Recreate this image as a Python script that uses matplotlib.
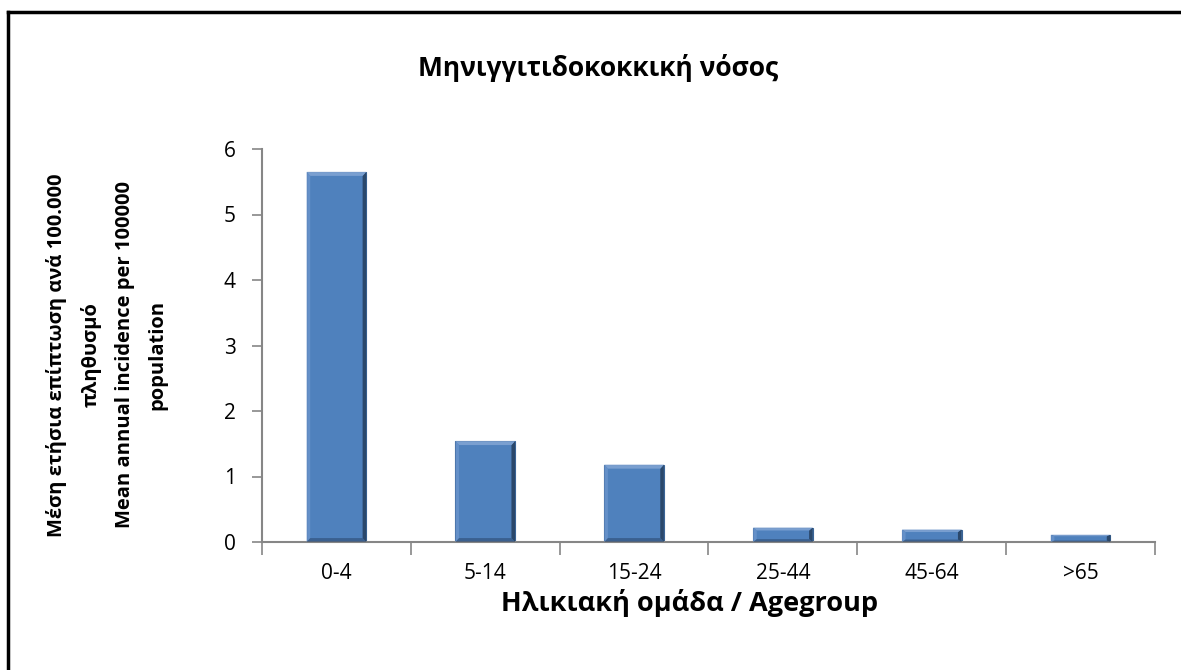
import matplotlib.pyplot as plt
import matplotlib.lines as mlines
import numpy as np

plt.rcParams['font.family'] = ['Open Sans', 'DejaVu Sans']

age_groups = ['0-4', '5-14', '15-24', '25-44', '45-64', '>65']
incidence = [5.65, 1.54, 1.18, 0.22, 0.19, 0.11]
y_ticks = [0, 1, 2, 3, 4, 5, 6]

bar_color = '#4F81BD'
axis_color = '#868686'

fig = plt.figure(figsize=(11.81, 6.70), dpi=100)
ax = fig.add_axes([262 / 1181, 1 - 542 / 670, (1155 - 262) / 1181, (542 - 149) / 670])

x = np.arange(len(age_groups))
width = 0.4
ax.bar(x, incidence, width=width, color=bar_color, edgecolor='#3A6496',
       linewidth=0.8, zorder=2)

# bevel shading: darker right edge and lighter top edge on each bar
for xi, v in zip(x, incidence):
    dx = width * 0.06
    dy = min(0.06, v * 0.2)
    left, right = xi - width / 2, xi + width / 2
    ax.fill([right - dx, right, right, right - dx],
            [dy, 0, v, v - dy], color='#1F3550', alpha=0.75, lw=0, zorder=3)
    ax.fill([left, left + dx, right - dx, right],
            [v, v - dy, v - dy, v], color='#7FA3D3', alpha=0.9, lw=0, zorder=3)
    ax.fill([left, left + dx, left + dx, left],
            [0, dy, v - dy, v], color='#6A94CC', alpha=0.8, lw=0, zorder=3)
    ax.fill([left, right, right - dx, left + dx],
            [0, 0, dy, dy], color='#2D4B73', alpha=0.6, lw=0, zorder=3)

ax.set_xlim(-0.5, len(age_groups) - 0.5)
ax.set_ylim(0, 6)
ax.set_yticks(y_ticks)
ax.set_yticklabels([str(t) for t in y_ticks], fontsize=15)

# category boundaries get tick marks, labels sit at the centres
ax.set_xticks(np.arange(-0.5, len(age_groups), 1.0))
ax.set_xticklabels([])
ax.set_xticks(x, minor=True)
ax.set_xticklabels(age_groups, minor=True, fontsize=15)
ax.tick_params(axis='x', which='major', length=9, color=axis_color, width=1.2)
ax.tick_params(axis='x', which='minor', length=0, pad=15)
ax.tick_params(axis='y', length=7, color=axis_color, width=1.2, pad=12)

for side in ['top', 'right']:
    ax.spines[side].set_visible(False)
for side in ['left', 'bottom']:
    ax.spines[side].set_color(axis_color)
    ax.spines[side].set_linewidth(1.5)

fig.text(690 / 1181, 1 - 603 / 670, 'Ηλικιακή ομάδα / Agegroup',
         fontsize=19.5, fontweight='bold', ha='center', va='center')

fig.text(598 / 1181, 1 - 68 / 670, 'Μηνιγγιτιδοκοκκική νόσος',
         fontsize=19, fontweight='bold', ha='center', va='center')

fig.text(107 / 1181, 1 - 355 / 670,
         'Μέση ετήσια επίπτωση ανά 100.000\nπληθυσμό\n'
         'Mean annual incidence per 100000\npopulation',
         fontsize=14.5, fontweight='bold', rotation=90, ha='center', va='center',
         multialignment='center', linespacing=1.85)

# outer frame on the left and top edges
fig.add_artist(mlines.Line2D([8 / 1181, 8 / 1181], [0, 1 - 12 / 670],
                             color='black', lw=2.5, transform=fig.transFigure))
fig.add_artist(mlines.Line2D([8 / 1181, 1], [1 - 12 / 670, 1 - 12 / 670],
                             color='black', lw=2.5, transform=fig.transFigure))

fig.savefig('out.png', dpi=100, facecolor='white')
